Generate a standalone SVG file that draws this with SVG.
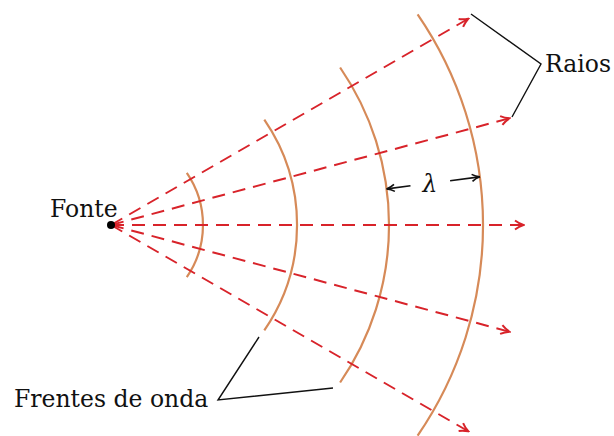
<svg xmlns="http://www.w3.org/2000/svg" width="614" height="436" viewBox="0 0 614 436">
<style>
.ray{stroke:#d8232a;stroke-width:2;stroke-dasharray:13 8;fill:none;marker-end:url(#rh)}
.front{stroke:#d68a58;stroke-width:2.2;fill:none}
.lead{stroke:#111;stroke-width:1.4;fill:none}
.lbl{font-family:"DejaVu Serif","Liberation Serif",serif;font-size:23.5px;fill:#111}
.lam{stroke:#111;stroke-width:1.6;fill:none;marker-end:url(#bh)}
</style>
<defs>
<marker id="rh" viewBox="0 0 12 12" refX="10" refY="6" markerWidth="12" markerHeight="12" markerUnits="userSpaceOnUse" orient="auto">
<path d="M2,1.5 Q6,4.5 10.5,6 Q6,7.5 2,10.5" fill="none" stroke="#d8232a" stroke-width="2"/>
</marker>
<marker id="bh" viewBox="0 0 10 10" refX="9" refY="5" markerWidth="10" markerHeight="10" markerUnits="userSpaceOnUse" orient="auto">
<path d="M1.5,1.5 Q5,4 9.5,5 Q5,6 1.5,8.5" fill="none" stroke="#111" stroke-width="1.6"/>
</marker>
</defs>
<g id="wavefronts">
<path class="front" d="M186.8,172.9 A92,92 0 0 1 186.8,277.1"/>
<path class="front" d="M264.3,119.6 A186,186 0 0 1 264.3,330.4"/>
<path class="front" d="M340.1,67.5 A278,278 0 0 1 340.1,382.5"/>
<path class="front" d="M417.6,14.3 A372,372 0 0 1 417.6,435.7"/>
</g>
<g id="connectors">
<line class="ray" x1="111" y1="225" x2="467.8" y2="19"/>
<line class="ray" x1="111" y1="225" x2="509" y2="118.4"/>
<line class="ray" x1="111" y1="225" x2="523" y2="225"/>
<line class="ray" x1="111" y1="225" x2="509" y2="331.6"/>
<line class="ray" x1="111" y1="225" x2="467.8" y2="431"/>
<polyline class="lead" points="471,14 541,64 512,117"/>
<polyline class="lead" points="259,337 218,400 333,388"/>
<line class="lam" x1="410.5" y1="185.8" x2="387" y2="188.9"/>
<line class="lam" x1="450.1" y1="180.7" x2="479.5" y2="176.9"/>
</g>
<g id="source">
<circle cx="111" cy="225" r="4" fill="#000"/>
<text class="lbl" x="50" y="217">Fonte</text>
</g>
<g id="label-raios"><text class="lbl" x="545" y="72">Raios</text></g>
<g id="label-frentes"><text class="lbl" x="14" y="407">Frentes de onda</text></g>
<g id="label-lambda"><text class="lbl" x="430" y="192" text-anchor="middle" font-style="italic" font-size="25">λ</text></g>
</svg>
